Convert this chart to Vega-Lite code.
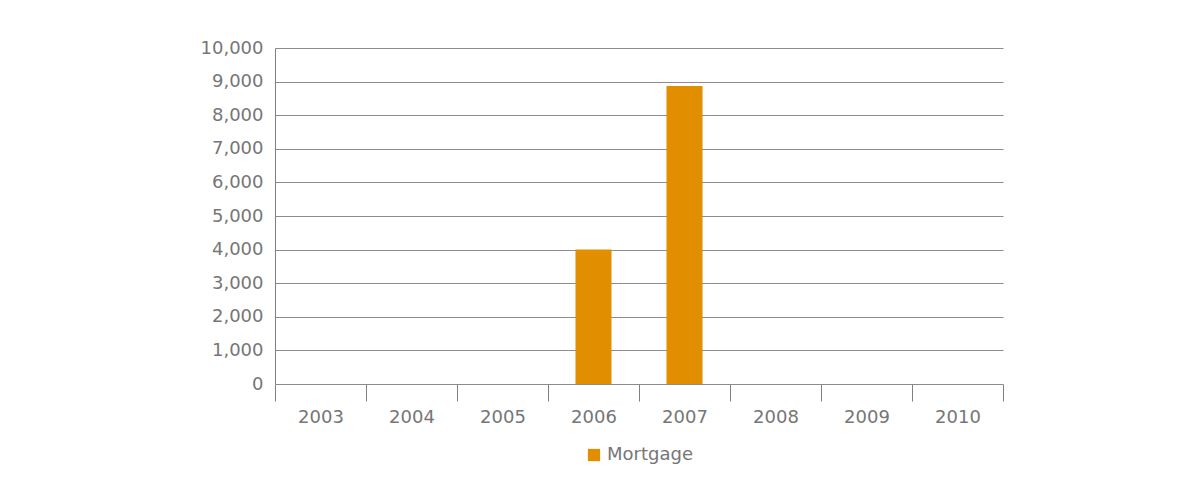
{
  "$schema": "https://vega.github.io/schema/vega-lite/v6.json",
  "autosize": {"type": "none"},
  "width": 728,
  "height": 336,
  "padding": {"left": 275, "top": 48, "right": 175, "bottom": 118},
  "background": "white",
  "data": {
    "values": [
      {"year": "2003", "series": "Mortgage", "value": 0},
      {"year": "2004", "series": "Mortgage", "value": 0},
      {"year": "2005", "series": "Mortgage", "value": 0},
      {"year": "2006", "series": "Mortgage", "value": 4000},
      {"year": "2007", "series": "Mortgage", "value": 8870},
      {"year": "2008", "series": "Mortgage", "value": 0},
      {"year": "2009", "series": "Mortgage", "value": 0},
      {"year": "2010", "series": "Mortgage", "value": 0}
    ]
  },
  "mark": {"type": "bar", "width": {"band": 0.396}},
  "encoding": {
    "x": {
      "field": "year",
      "type": "ordinal",
      "title": null,
      "scale": {"paddingInner": 0, "paddingOuter": 0},
      "axis": {
        "tickBand": "extent",
        "tickSize": 17,
        "tickColor": "#808080",
        "domain": false,
        "labelAngle": 0,
        "labelPadding": 7,
        "labelFont": "DejaVu Sans",
        "labelFontSize": 18,
        "labelColor": "#767676",
        "grid": false
      }
    },
    "y": {
      "field": "value",
      "type": "quantitative",
      "title": null,
      "scale": {"domain": [0, 10000]},
      "axis": {
        "values": [0, 1000, 2000, 3000, 4000, 5000, 6000, 7000, 8000, 9000, 10000],
        "format": ",.0f",
        "ticks": false,
        "domain": true,
        "domainColor": "#808080",
        "grid": true,
        "gridColor": "#8c8c8c",
        "gridOpacity": 1,
        "labelPadding": 12,
        "labelFont": "DejaVu Sans",
        "labelFontSize": 18,
        "labelColor": "#767676"
      }
    },
    "color": {
      "field": "series",
      "type": "nominal",
      "scale": {"range": ["#e18f00"]},
      "legend": {
        "orient": "bottom",
        "direction": "horizontal",
        "title": null,
        "symbolType": "square",
        "symbolSize": 150,
        "symbolStrokeWidth": 0,
        "labelFont": "DejaVu Sans",
        "labelFontSize": 18,
        "labelColor": "#767676",
        "offset": 20
      }
    }
  },
  "config": {
    "view": {"stroke": null},
    "legend": {"layout": {"bottom": {"anchor": "middle"}}}
  }
}
